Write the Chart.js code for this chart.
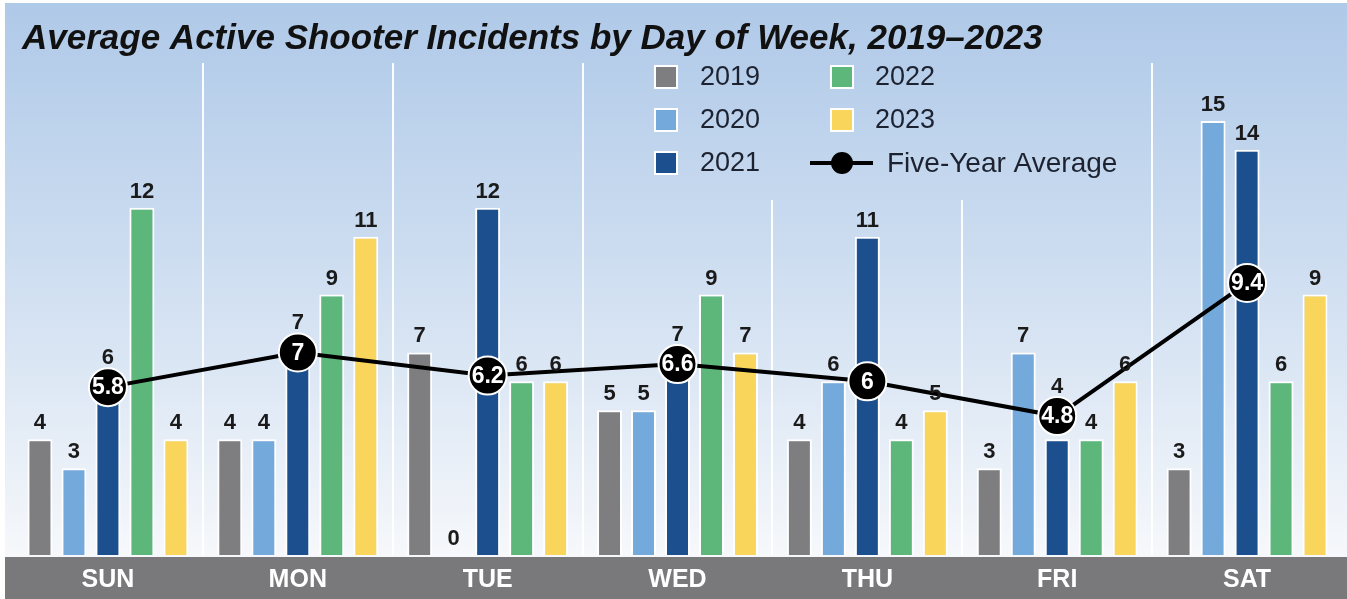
<!DOCTYPE html>
<html>
<head>
<meta charset="utf-8">
<title>Active Shooter Incidents by Day of Week</title>
<script src="https://cdn.jsdelivr.net/npm/chart.js@4.4.0/dist/chart.umd.min.js"></script>
<style>
  html, body { margin: 0; padding: 0; background: #fff; }
  #wrap { position: absolute; left: 5px; top: 3px; width: 1342px; height: 596px; }
</style>
</head>
<body>
<div id="wrap"><canvas id="dayChart"></canvas></div>
<script>
  // Incidents per weekday, one array per year
  const days = ['SUN', 'MON', 'TUE', 'WED', 'THU', 'FRI', 'SAT'];
  const years = ['2019', '2020', '2021', '2022', '2023'];
  const incidents2019 = [4, 4, 7, 5, 4, 3, 3];
  const incidents2020 = [3, 4, 0, 5, 6, 7, 15];
  const incidents2021 = [6, 7, 12, 7, 11, 4, 14];
  const incidents2022 = [12, 9, 6, 9, 4, 4, 6];
  const incidents2023 = [4, 11, 6, 7, 5, 6, 9];
  const fiveYearAverage = [5.8, 7, 6.2, 6.6, 6, 4.8, 9.4];
  const yearSeries = [incidents2019, incidents2020, incidents2021, incidents2022, incidents2023];
  const yearColors = ['#7e7e80', '#74a9dc', '#1b4f8d', '#5db77b', '#fad55b'];
  const chartTitle = 'Average Active Shooter Incidents by Day of Week, 2019\u20132023';

  const MARKER_R = 19;

  // Gradient background, grey day band and the title
  const backdrop = {
    id: 'backdrop',
    beforeDraw(chart) {
      const { ctx, width, height, chartArea } = chart;
      const g = ctx.createLinearGradient(0, 0, 0, chartArea.bottom);
      g.addColorStop(0, '#afc9e8');
      g.addColorStop(0.55, '#d3e1f2');
      g.addColorStop(1, '#f6f8fb');
      ctx.save();
      ctx.fillStyle = g;
      ctx.fillRect(0, 0, width, height);
      ctx.fillStyle = '#79797b';
      ctx.fillRect(0, chartArea.bottom + 2, width, height - chartArea.bottom - 2);
      ctx.font = 'italic bold 35px "Liberation Sans"';
      ctx.fillStyle = '#111';
      ctx.textBaseline = 'alphabetic';
      ctx.fillText(chartTitle, 17, 46);
      ctx.restore();
    }
  };

  // White separators between the days (stopped short under the legend)
  const dividers = {
    id: 'dividers',
    beforeDatasetsDraw(chart) {
      const { ctx, chartArea, scales: { x } } = chart;
      const step = x.getPixelForValue(1) - x.getPixelForValue(0);
      ctx.save();
      ctx.strokeStyle = 'rgba(255,255,255,0.95)';
      ctx.lineWidth = 2;
      for (let i = 0; i < days.length - 1; i++) {
        const px = Math.round(x.getPixelForValue(i) + step / 2);
        const top = (px > 640 && px < 1130) ? 197 : chartArea.top;
        ctx.beginPath();
        ctx.moveTo(px, top);
        ctx.lineTo(px, chartArea.bottom);
        ctx.stroke();
      }
      ctx.restore();
    }
  };

  // Value labels above bars (lifted over an average marker when they collide),
  // and white labels inside the markers
  const valueLabels = {
    id: 'valueLabels',
    afterDatasetsDraw(chart) {
      const { ctx } = chart;
      const sets = chart.data.datasets;
      const avgIndex = sets.findIndex(d => d.type === 'line');
      const markers = chart.getDatasetMeta(avgIndex).data;
      ctx.save();
      ctx.textAlign = 'center';
      ctx.font = 'bold 22px "Liberation Sans"';
      ctx.fillStyle = '#1a1a1a';
      ctx.textBaseline = 'alphabetic';
      sets.forEach((ds, di) => {
        if (ds.type !== 'bar') return;
        chart.getDatasetMeta(di).data.forEach((el, i) => {
          let y = el.y - 10;
          const m = markers[i];
          if (Math.abs(m.x - el.x) < el.width && y > m.y - MARKER_R - 3 && y - 16 < m.y + MARKER_R) {
            y = m.y - MARKER_R - 4;
          }
          ctx.fillText(String(ds.data[i]), el.x, y);
        });
      });
      ctx.font = 'bold 23px "Liberation Sans"';
      ctx.fillStyle = '#fff';
      ctx.textBaseline = 'middle';
      markers.forEach((el, i) => {
        ctx.fillText(String(fiveYearAverage[i]), el.x, el.y + 1);
      });
      ctx.restore();
    }
  };

  // Two-column legend drawn over the plot
  const legendBox = {
    id: 'legendBox',
    afterDraw(chart) {
      const { ctx } = chart;
      const sets = chart.data.datasets;
      const rows = [74, 117, 160];
      ctx.save();
      ctx.font = '27px "Liberation Sans"';
      ctx.textBaseline = 'middle';
      ctx.textAlign = 'left';
      sets.forEach((ds, i) => {
        const col = i < 3 ? 0 : 1;
        const y = rows[i % 3];
        if (ds.type === 'bar') {
          const sx = col === 0 ? 650 : 826;
          ctx.fillStyle = ds.backgroundColor;
          ctx.fillRect(sx, y - 11, 22, 22);
          ctx.strokeStyle = '#fff';
          ctx.lineWidth = 2;
          ctx.strokeRect(sx, y - 11, 22, 22);
          ctx.fillStyle = '#1c2230';
          ctx.fillText(ds.label, col === 0 ? 695 : 870, y + 1);
        } else {
          ctx.strokeStyle = '#000';
          ctx.lineWidth = 4;
          ctx.beginPath();
          ctx.moveTo(805, y);
          ctx.lineTo(868, y);
          ctx.stroke();
          ctx.fillStyle = '#000';
          ctx.beginPath();
          ctx.arc(837, y, 11, 0, Math.PI * 2);
          ctx.fill();
          ctx.fillStyle = '#1c2230';
          ctx.font = '28px "Liberation Sans"';
          ctx.fillText(ds.label, 882, y + 1);
        }
      });
      ctx.restore();
    }
  };

  const barSets = years.map((yr, i) => ({
    type: 'bar',
    label: yr,
    data: yearSeries[i],
    backgroundColor: yearColors[i],
    borderColor: '#fff',
    borderWidth: 2,
    borderSkipped: 'bottom',
    categoryPercentage: 0.895,
    barPercentage: 0.735,
    order: 1
  }));

  new Chart(document.getElementById('dayChart'), {
    type: 'bar',
    data: {
      labels: days,
      datasets: [
        ...barSets,
        {
          type: 'line',
          label: 'Five-Year Average',
          data: fiveYearAverage,
          borderColor: '#000',
          borderWidth: 4,
          pointRadius: MARKER_R,
          pointHoverRadius: MARKER_R,
          pointBackgroundColor: '#000',
          pointBorderColor: '#fff',
          pointBorderWidth: 2,
          order: 0
        }
      ]
    },
    options: {
      responsive: true,
      maintainAspectRatio: false,
      animation: false,
      layout: { autoPadding: false, padding: { top: 60, left: 8, right: 5, bottom: 0 } },
      plugins: {
        legend: { display: false },
        tooltip: { enabled: false },
        title: { display: false }
      },
      scales: {
        x: {
          grid: { display: false, drawTicks: false },
          border: { display: false },
          ticks: {
            color: '#fff',
            font: { family: 'Liberation Sans', weight: 'bold', size: 25 },
            padding: 10
          },
          afterFit(scale) { scale.height = 44; }
        },
        y: { display: false, min: 0, max: 17 }
      }
    },
    plugins: [backdrop, dividers, valueLabels, legendBox]
  });
</script>
</body>
</html>
